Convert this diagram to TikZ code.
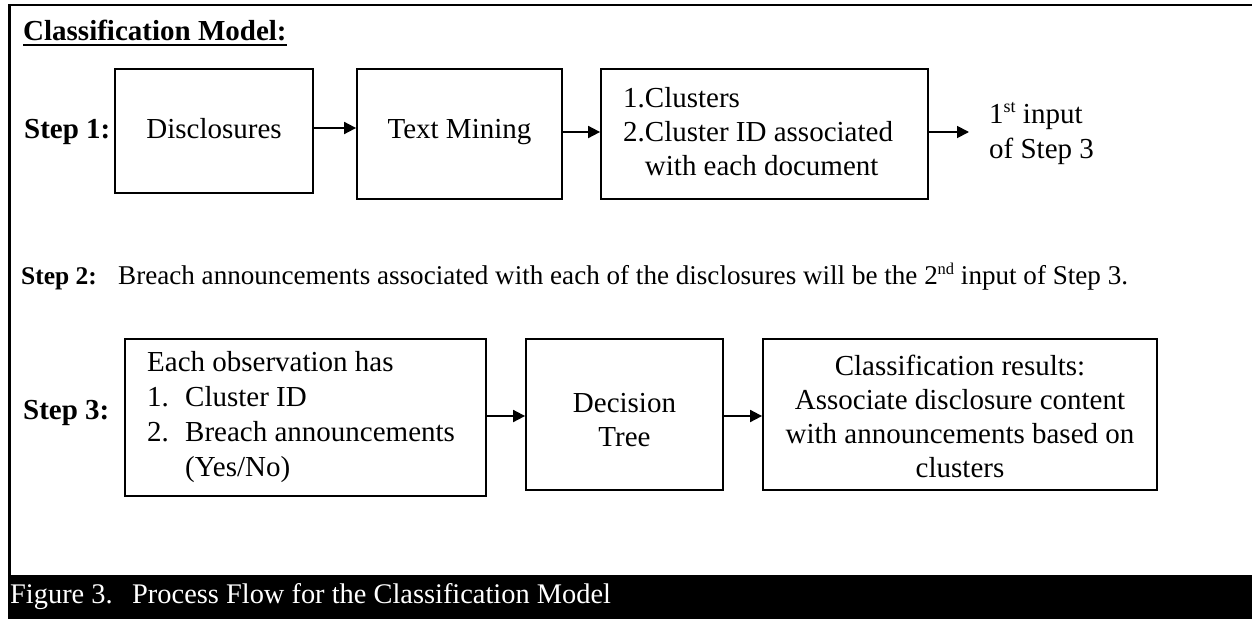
\documentclass[tikz,border=0pt]{standalone}
\usepackage{fontspec}
\setmainfont{Liberation Serif}
\usetikzlibrary{arrows.meta}
\newcommand\sps[1]{\raisebox{11pt}{\fontsize{18}{18}\selectfont #1}}
\newcommand\spsb[1]{\raisebox{10pt}{\fontsize{16.5}{16.5}\selectfont #1}}
\begin{document}
\begin{tikzpicture}[x=1pt,y=-1pt,
  box/.style={draw,line width=1.8pt,inner sep=0pt},
  txt/.style={inner sep=0pt,font=\fontsize{29}{34}\selectfont},
  bold/.style={txt,font=\fontsize{29}{34}\selectfont\bfseries},
  arr/.style={line width=1.8pt,-{Triangle[length=12pt,width=12pt]}}]
\useasboundingbox (0,0) rectangle (1252,619);
% frame and caption bar
\draw[line width=2.5pt] (1252,5) -- (9.5,5) -- (9.5,576);
\fill[black] (8,575) rectangle (1252,619);
\node[txt,anchor=base west,text=white,font=\fontsize{28.4}{30}\selectfont] (figno) at (10,603) {Figure 3.};
\node[txt,anchor=base west,text=white,font=\fontsize{28.4}{30}\selectfont] (cap) at (132,603) {Process Flow for the Classification Model};
% title
\node[bold,anchor=base west] (title) at (23,40) {Classification Model:};
\draw[line width=2pt] ([yshift=-5pt]title.base west) -- ([yshift=-5pt]title.base east);
% Step 1
\node[bold,anchor=base west] (s1) at (24,138) {Step 1:};
\node[box,minimum width=198pt,minimum height=124pt] (b1) at (214,131) {};
\node[box,minimum width=205pt,minimum height=130pt] (b2) at (459.5,134) {};
\node[box,minimum width=327pt,minimum height=130pt] (b3) at (764.5,134) {};
\node[txt,anchor=base] (t1) at (214,138) {Disclosures};
\node[txt,anchor=base] (t2) at (459.5,138) {Text Mining};
\node[txt,anchor=base west] (t3) at (623,107) {\begin{tabular}[t]{@{}l@{}l@{}}1.&Clusters\\2.&Cluster ID associated\\&with each document\end{tabular}};
\coordinate (in3) at (969,132);
\node[txt,anchor=base west] (t4) at (989,123) {\fontsize{29}{35}\selectfont\begin{tabular}[t]{@{}l@{}}1\sps{st} input\\of Step 3\end{tabular}};
\draw[arr] ([yshift=3pt]b1.east) -- ([yshift=3pt]b1.east -| b2.west);
\draw[arr] ([yshift=2pt]b2.east) -- ([yshift=2pt]b2.east -| b3.west);
\draw[arr] ([yshift=2pt]b3.east) -- (in3);
% Step 2
\node[bold,anchor=base west,font=\fontsize{25.5}{32}\selectfont\bfseries] (s2) at (21,284) {Step 2:};
\node[txt,anchor=base west,font=\fontsize{27.1}{32}\selectfont] (t5) at (118,284) {Breach announcements associated with each of the disclosures will be the 2\spsb{nd} input of Step 3.};
% Step 3
\node[bold,anchor=base west] (s3) at (23,419) {Step 3:};
\node[box,minimum width=361pt,minimum height=157pt] (c1) at (305.5,417.5) {};
\node[box,minimum width=197pt,minimum height=151pt] (c2) at (624.5,414.5) {};
\node[box,minimum width=394pt,minimum height=151pt] (c3) at (960,414.5) {};
\node[txt,anchor=base west] (u1) at (147,371) {\fontsize{29}{35}\selectfont\begin{tabular}[t]{@{}l@{}l@{}}\multicolumn{2}{@{}l@{}}{Each observation has}\\\makebox[38pt][l]{1.}&Cluster ID\\\makebox[38pt][l]{2.}&Breach announcements\\&(Yes/No)\end{tabular}};
\node[txt,anchor=base] (u2) at (624.5,412) {\begin{tabular}[t]{@{}c@{}}Decision\\Tree\end{tabular}};
\node[txt,anchor=base] (u3) at (960,375) {\begin{tabular}[t]{@{}c@{}}Classification results:\\Associate disclosure content\\with announcements based on\\clusters\end{tabular}};
\draw[arr] ([yshift=1.5pt]c1.east) -- ([yshift=1.5pt]c1.east -| c2.west);
\draw[arr] ([yshift=-1.5pt]c2.east) -- ([yshift=-1.5pt]c2.east -| c3.west);
\end{tikzpicture}
\end{document}
